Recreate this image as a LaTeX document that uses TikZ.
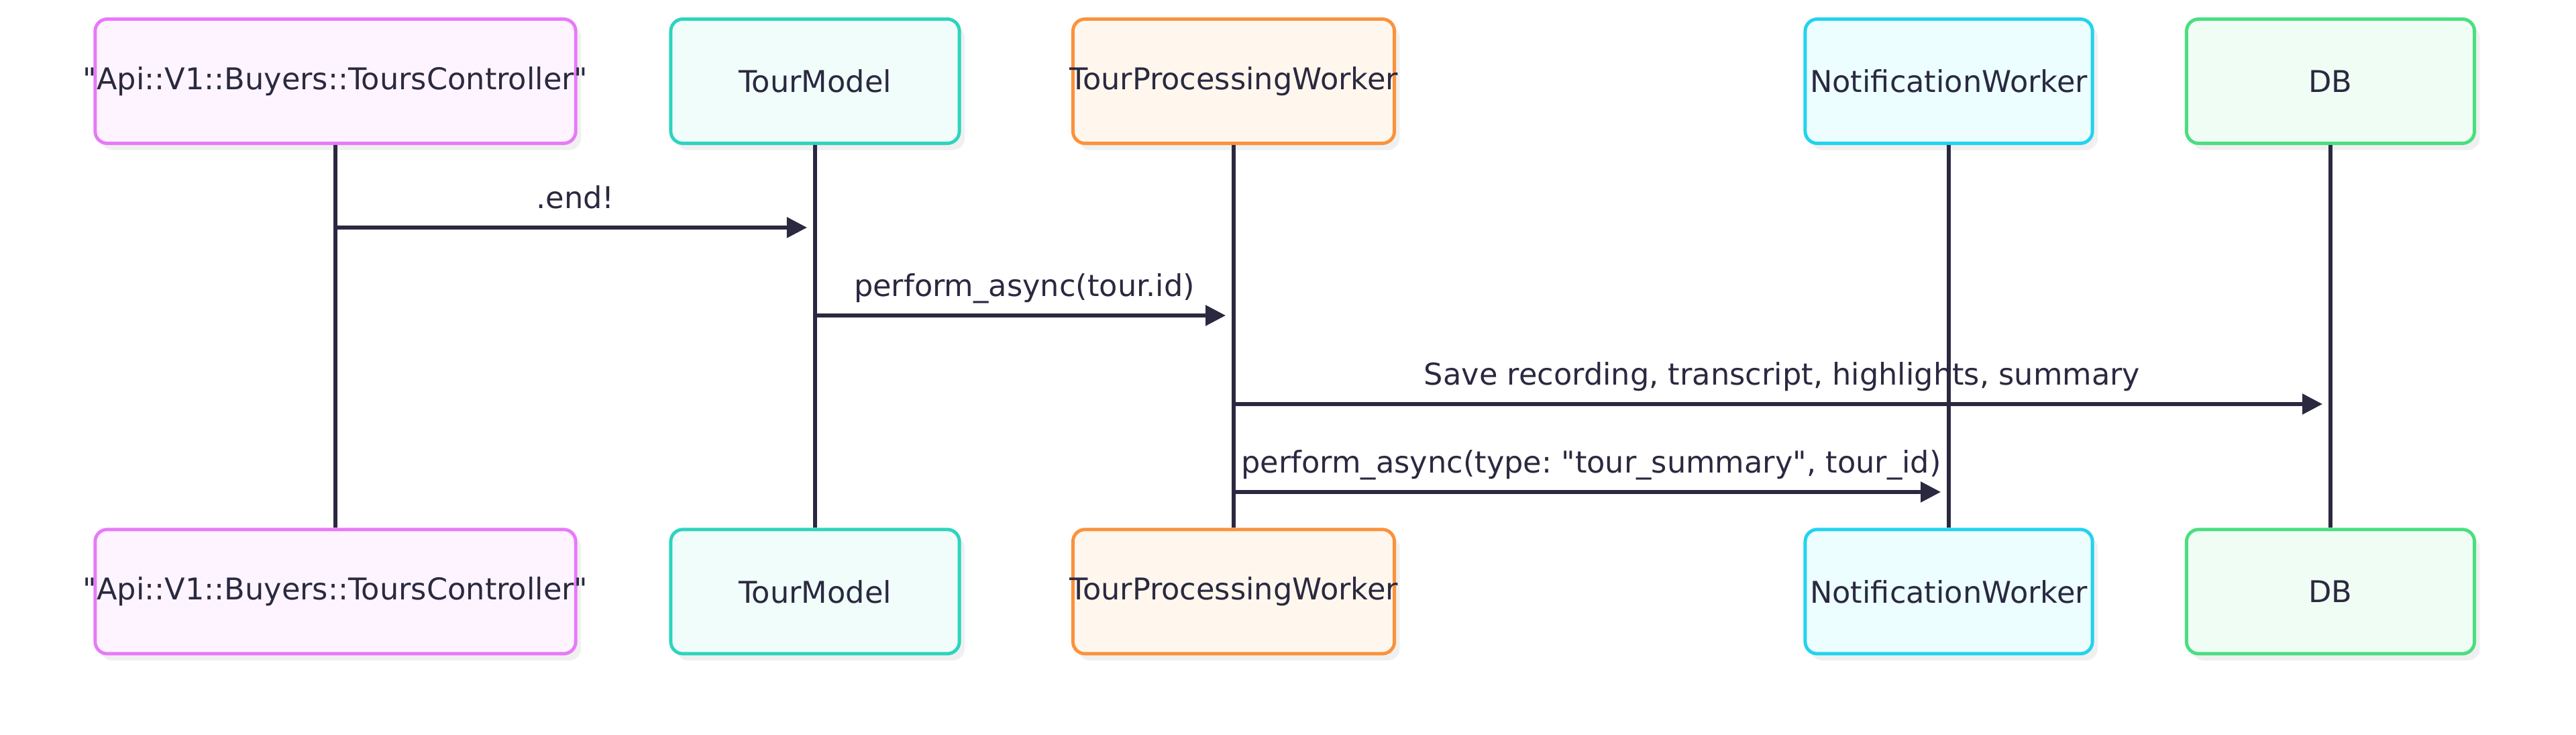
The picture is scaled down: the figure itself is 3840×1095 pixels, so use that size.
\documentclass[tikz,border=0pt]{standalone}
\usepackage{fontspec}
\setmainfont{DejaVu Sans}[Ligatures = TeXOff]
\usetikzlibrary{arrows.meta}
\usetikzlibrary{positioning}
\usetikzlibrary{shadows}

\definecolor{ink}{HTML}{2A2940}
\definecolor{ctrldraw}{HTML}{E879F9}
\definecolor{ctrlfill}{HTML}{FDF4FF}
\definecolor{modeldraw}{HTML}{2DD4BF}
\definecolor{modelfill}{HTML}{F0FDFA}
\definecolor{tpwdraw}{HTML}{FB923C}
\definecolor{tpwfill}{HTML}{FFF7ED}
\definecolor{nwdraw}{HTML}{22D3EE}
\definecolor{nwfill}{HTML}{ECFEFF}
\definecolor{dbdraw}{HTML}{4ADE80}
\definecolor{dbfill}{HTML}{F0FDF4}

\newcommand{\actorname}[1]{\makebox[0pt]{#1}}
\newcommand{\dq}{\symbol{34}}
\frenchspacing

\tikzset{
  actor/.style = {draw, rounded corners = 0.18cm, line width = 1.4pt,
    minimum height = 1.85cm, inner sep = 0pt, text = ink,
    font = \fontsize{12.7}{15}\selectfont,
    drop shadow = {shadow xshift = 0.08cm, shadow yshift = -0.1cm,
      fill = black!6, opacity = 1}},
  lifeline/.style = {draw = ink, line width = 1.5pt},
  msg/.style = {-{Triangle[length = 0.3cm, width = 0.3cm]}, draw = ink,
    line width = 1.5pt, shorten > = 0.12cm},
  lbl/.style = {midway, anchor = base, yshift = 0.28cm, inner sep = 0pt,
    text = ink, font = \fontsize{12.7}{15}\selectfont},
  node distance = 5.7cm
}

\begin{document}
\begin{tikzpicture}[x = 0.01cm, y = -0.01cm]
  \useasboundingbox (0,0) rectangle (3840,1095);
  % participants
  \node (ctrlT) [actor, draw = ctrldraw, fill = ctrlfill, minimum width = 7.16cm] at (500,121) {\actorname{\dq Api::V1::Buyers::ToursController\dq}};
  \node (modelT) [actor, draw = modeldraw, fill = modelfill, minimum width = 4.3cm] at (1215,121) {\actorname{TourModel}};
  \node (tpwT) [actor, draw = tpwdraw, fill = tpwfill, minimum width = 4.79cm] at (1839,121) {\actorname{TourProcessingWorker}};
  \node (nwT) [actor, draw = nwdraw, fill = nwfill, minimum width = 4.28cm] at (2905,121) {\actorname{NotificationWorker}};
  \node (dbT) [actor, draw = dbdraw, fill = dbfill, minimum width = 4.29cm] at (3474,121) {\actorname{DB}};
  \node (ctrlB) [actor, draw = ctrldraw, fill = ctrlfill, minimum width = 7.16cm, below = of ctrlT] {\actorname{\dq Api::V1::Buyers::ToursController\dq}};
  \node (modelB) [actor, draw = modeldraw, fill = modelfill, minimum width = 4.3cm, below = of modelT] {\actorname{TourModel}};
  \node (tpwB) [actor, draw = tpwdraw, fill = tpwfill, minimum width = 4.79cm, below = of tpwT] {\actorname{TourProcessingWorker}};
  \node (nwB) [actor, draw = nwdraw, fill = nwfill, minimum width = 4.28cm, below = of nwT] {\actorname{NotificationWorker}};
  \node (dbB) [actor, draw = dbdraw, fill = dbfill, minimum width = 4.29cm, below = of dbT] {\actorname{DB}};
  % message rows
  \coordinate (m1) at (0,339);
  \coordinate (m2) at (0,470);
  \coordinate (m3) at (0,602);
  \coordinate (m4) at (0,733);
  % messages
  \draw[msg] (ctrlT |- m1) -- node[lbl] {.end!} (modelT |- m1);
  \draw[msg] (modelT |- m2) -- node[lbl] {perform\_async(tour.id)} (tpwT |- m2);
  \draw[msg] (tpwT |- m3) -- node[lbl] {Save recording, transcript, highlights, summary} (dbT |- m3);
  \draw[msg] (tpwT |- m4) -- node[lbl] {perform\_async(type: \dq tour\_summary\dq, tour\_id)} (nwT |- m4);
  % lifelines
  \foreach \p in {ctrl, model, tpw, nw, db}
    \draw[lifeline] (\p T.south) -- (\p B.north);
\end{tikzpicture}
\end{document}
